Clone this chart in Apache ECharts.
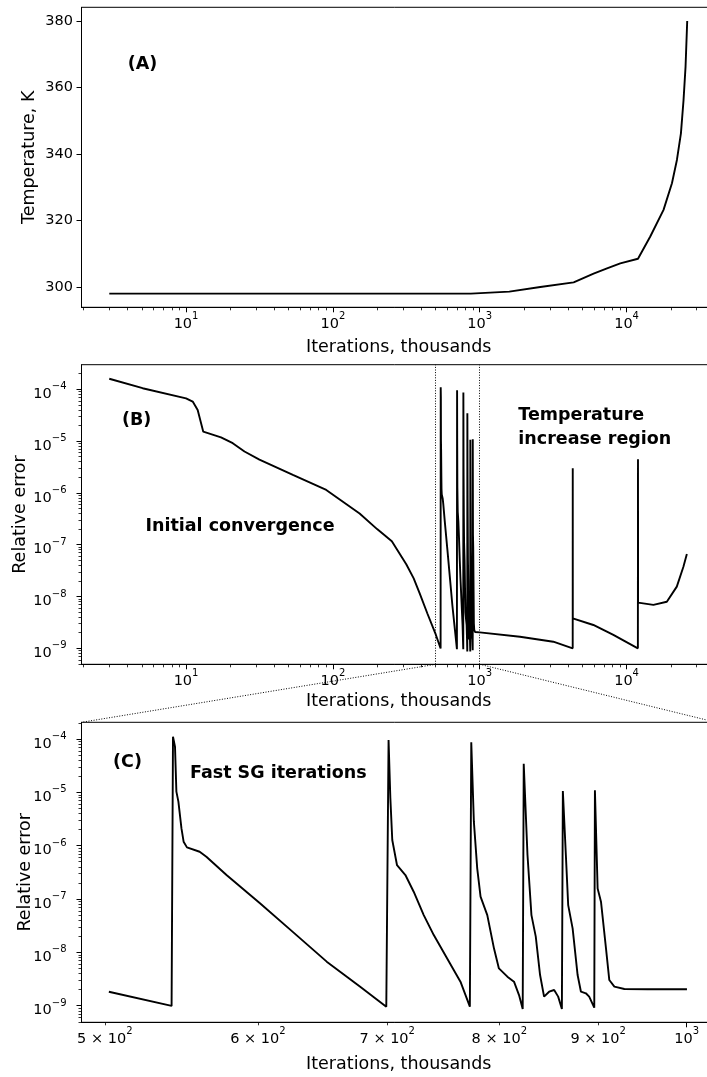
<!DOCTYPE html>
<html>
<head>
<meta charset="utf-8">
<script src="https://cdn.jsdelivr.net/npm/echarts@6/dist/echarts.min.js"></script>
<style>
html, body { margin: 0; padding: 0; background: #fff; }
#chart { width: 707px; height: 1077px; }
</style>
</head>
<body>
<div id="chart"></div>
<script>
// (A) temperature vs iterations (thousands)
var tempIter = [3, 870, 1590, 2585, 4360, 5960, 7360, 9060, 11960, 14500, 17850, 20370, 22020, 23450, 24430, 25210, 25880];
var tempK = [298, 298, 298.6, 300.0, 301.4, 304.0, 305.6, 307.1, 308.5, 315.2, 323.2, 331.2, 338.2, 346.2, 356.2, 366.2, 380];

// (B) initial convergence
var initIter = [3, 5.06, 10, 11.1, 12.0, 13.1, 17.3, 20.8, 25, 31.6, 53.4, 90.1, 152, 200, 252, 316, 355, 390, 440];
var initErr = [1.6e-4, 1.05e-4, 6.7e-5, 5.8e-5, 4.0e-5, 1.52e-5, 1.18e-5, 9.1e-6, 6.3e-6, 4.4e-6, 2.22e-6, 1.14e-6, 4.0e-7, 2.0e-7, 1.17e-7, 4.2e-8, 2.24e-8, 1.15e-8, 4.7e-9];

// fast SG iterations (shown in B, zoomed in C)
var fastIter = [502.4, 541.4, 542.3, 543.6, 544.5, 545.8, 547.8, 549.2, 551.4, 559.8, 564.3, 578.0, 601.5, 625.9, 651.3, 677.8, 699.2,
  701.1, 702.6, 704.2, 708.2, 715.3, 722.4, 731.1, 739.9, 751.8, 763.8, 772.4,
  773.7, 776.1, 779.2, 782.3, 788.6, 794.9, 799.6, 807.7, 814.1, 819.0, 822.6,
  823.6, 827.3, 831.2, 835.5, 839.8, 843.8, 848.9, 854.0, 858.1, 861.9,
  862.9, 866.0, 868.4, 873.0, 878.2, 881.7, 886.9, 890.4, 895.8,
  896.5, 899.4, 903.0, 908.4, 912.0, 917.5, 928.5, 954.8, 1000.4];
var fastErr = [1.83e-9, 9.9e-10, 1.1e-4, 7.2e-5, 1.03e-5, 6.7e-6, 2.11e-6, 1.19e-6, 9.3e-7, 7.7e-7, 6.2e-7, 2.82e-7, 8.3e-8, 2.37e-8, 6.7e-9, 2.27e-9, 9.6e-10,
  9.6e-5, 7.8e-6, 1.28e-6, 4.3e-7, 2.82e-7, 1.37e-7, 5.0e-8, 2.11e-8, 7.7e-9, 2.82e-9, 9.6e-10,
  8.7e-5, 2.82e-6, 3.76e-7, 1.11e-7, 5.0e-8, 1.19e-8, 5.0e-9, 3.5e-9, 2.82e-9, 1.58e-9, 8.7e-10,
  3.44e-5, 6.7e-7, 5.0e-8, 1.97e-8, 3.76e-9, 1.48e-9, 1.83e-9, 1.97e-9, 1.48e-9, 8.7e-10,
  1.06e-5, 6.7e-7, 7.7e-8, 2.82e-8, 3.76e-9, 1.83e-9, 1.71e-9, 1.48e-9, 9.2e-10,
  1.09e-5, 1.58e-7, 8.9e-8, 1.19e-8, 3.03e-9, 2.28e-9, 2.06e-9, 2.03e-9, 2.03e-9];

// temperature increase region
var heatIter = [1880, 3170, 4297, 4300, 4303, 5940, 8130, 11940, 11960, 11980, 15230, 18800, 21980, 24380, 25740];
var heatErr = [1.67e-9, 1.34e-9, 1.0e-9, 2.99e-6, 3.79e-9, 2.82e-9, 1.81e-9, 1.0e-9, 4.46e-6, 7.6e-9, 6.9e-9, 7.9e-9, 1.55e-8, 3.76e-8, 6.6e-8];

var tempTicks = [300, 320, 340, 360, 380];
var iterTicks = [10, 100, 1000, 10000];
var errTicks = [1e-9, 1e-8, 1e-7, 1e-6, 1e-5, 1e-4];
var zoomTicks = [500, 600, 700, 800, 900, 1000];

var FONT = 'DejaVu Sans';
var lg = Math.log10;

// axis ranges (log10 space for the log axes)
var iterRange = [0.288, 4.609];
var tempRange = [293.9, 384.1];
var errRangeB = [-9.309, -3.525];
var zoomRange = [2.6869, 3.0152];
var errRangeC = [-9.311, -3.687];

function toPairs(xs, ys, logY) {
  return xs.map(function (x, i) { return [lg(x), logY ? lg(ys[i]) : ys[i]]; });
}
function minorLogs(range) {
  var out = [];
  for (var n = Math.floor(range[0]) - 1; n <= Math.ceil(range[1]); n++) {
    for (var k = 2; k < 10; k++) {
      var v = n + lg(k);
      if (v > range[0] && v < range[1]) out.push(v);
    }
  }
  return out;
}
function supText(e) {
  return (e < 0 ? '\u2212' : '') + Math.abs(e);
}
function powLabel(v) {
  return '{b|10}{s|' + supText(Math.round(v)) + '}';
}
function zoomLabel(v) {
  var e = Math.floor(v + 1e-9);
  var m = Math.round(Math.pow(10, v - e));
  if (m === 1) return '{b|10}{s|' + supText(e) + '}';
  return '{b|' + m + ' \u00d7 10}{s|' + supText(e) + '}';
}
var rich = {
  b: { fontFamily: FONT, fontSize: 14.5, color: '#000', lineHeight: 20, verticalAlign: 'bottom' },
  s: { fontFamily: FONT, fontSize: 10, color: '#000', lineHeight: 12, verticalAlign: 'top' }
};
var nameStyle = { fontFamily: FONT, fontSize: 17.5, color: '#000' };
var black = { color: '#000', width: 1 };

function majorAxis(dim, grid, range, ticks, labels, fmt, margin, name, gap, pad) {
  return {
    type: 'value', gridIndex: grid, min: range[0], max: range[1],
    position: dim === 'x' ? 'bottom' : 'left',
    axisLine: { show: true, onZero: false, lineStyle: black },
    axisTick: { show: true, length: 5, lineStyle: black, customValues: ticks },
    axisLabel: { customValues: labels, formatter: fmt, rich: rich, margin: margin, padding: pad || 0,
      color: '#000', fontFamily: FONT, fontSize: 14.5 },
    splitLine: { show: false },
    name: name, nameLocation: 'middle', nameGap: gap, nameMoveOverlap: false, nameTextStyle: nameStyle
  };
}
function minorAxis(dim, grid, range, ticks) {
  return {
    type: 'value', gridIndex: grid, min: range[0], max: range[1],
    position: dim === 'x' ? 'bottom' : 'left',
    axisLine: { show: false },
    axisTick: { show: true, length: 3, lineStyle: { color: '#000', width: 0.8 }, customValues: ticks },
    axisLabel: { show: false },
    splitLine: { show: false }
  };
}

var logIter = iterTicks.map(lg);
var logErr = errTicks.map(lg);
var logZoom = zoomTicks.map(lg);

var xAxes = [
  majorAxis('x', 0, iterRange, logIter, logIter, powLabel, 4, 'Iterations, thousands', 31),
  majorAxis('x', 1, iterRange, logIter, logIter, powLabel, 4, 'Iterations, thousands', 28),
  majorAxis('x', 2, zoomRange, [3], logZoom, zoomLabel, 4, 'Iterations, thousands', 33),
  minorAxis('x', 0, iterRange, minorLogs(iterRange)),
  minorAxis('x', 1, iterRange, minorLogs(iterRange)),
  minorAxis('x', 2, zoomRange, minorLogs(zoomRange))
];
var yAxes = [
  majorAxis('y', 0, tempRange, tempTicks, tempTicks, '{value}', 8.5, 'Temperature, K', 43),
  majorAxis('y', 1, errRangeB, logErr, logErr, powLabel, 15, 'Relative error', 52, [5, 0, 0, 0]),
  majorAxis('y', 2, errRangeC, logErr, logErr, powLabel, 15, 'Relative error', 47, [5, 0, 0, 0]),
  minorAxis('y', 1, errRangeB, minorLogs(errRangeB)),
  minorAxis('y', 2, errRangeC, minorLogs(errRangeC))
];

// the axes run past the right edge of the picture, as in the reference
var grids = [
  { left: 81.5, width: 634.5, top: 7.3, height: 300 },
  { left: 81.5, width: 634.5, top: 364.7, height: 299.6 },
  { left: 81.5, width: 634.5, top: 722.3, height: 300 }
].map(function (g) {
  g.show = true; g.borderColor = '#000'; g.borderWidth = 1; g.backgroundColor = 'transparent';
  g.outerBoundsMode = 'none'; g.containLabel = false;
  return g;
});

var lineStyle = { color: '#000', width: 1.9 };
var errB = toPairs(initIter, initErr, true).concat(toPairs(fastIter, fastErr, true), toPairs(heatIter, heatErr, true));

var chart = echarts.init(document.getElementById('chart'), null, { renderer: 'canvas' });
chart.setOption({
  animation: false,
  backgroundColor: '#fff',
  grid: grids,
  xAxis: xAxes,
  yAxis: yAxes,
  series: [
    { type: 'line', xAxisIndex: 0, yAxisIndex: 0, data: toPairs(tempIter, tempK, false),
      symbol: 'none', lineStyle: lineStyle, clip: true },
    { type: 'line', xAxisIndex: 1, yAxisIndex: 1, data: errB,
      symbol: 'none', lineStyle: lineStyle, clip: true,
      markLine: {
        silent: true, symbol: ['none', 'none'], label: { show: false },
        lineStyle: { color: '#000', width: 1, type: [1, 1.6] },
        data: [{ xAxis: lg(fastIter[0]) }, { xAxis: lg(fastIter[fastIter.length - 1]) }]
      } },
    { type: 'line', xAxisIndex: 2, yAxisIndex: 2, data: toPairs(fastIter, fastErr, true),
      symbol: 'none', lineStyle: lineStyle, clip: true }
  ]
});

// dotted connectors from the zoom window in (B) to the corners of (C)
var p1 = chart.convertToPixel({ seriesIndex: 1 }, [lg(fastIter[0]), errRangeB[0]]);
var p2 = chart.convertToPixel({ seriesIndex: 1 }, [lg(fastIter[fastIter.length - 1]), errRangeB[0]]);
var c1 = chart.convertToPixel({ seriesIndex: 2 }, [zoomRange[0], errRangeC[1]]);
var c2 = chart.convertToPixel({ seriesIndex: 2 }, [zoomRange[1], errRangeC[1]]);
var dotted = { stroke: '#000', lineWidth: 1, lineDash: [1, 1.6] };
var bold = 'bold 17.5px "DejaVu Sans"';

function note(id, x, y, text, align) {
  return { type: 'text', id: id, x: x, y: y, silent: true,
    style: { text: text, font: bold, fill: '#000', align: align || 'center', verticalAlign: 'middle', lineHeight: 24 } };
}

chart.setOption({
  graphic: [
    { type: 'line', id: 'conn1', silent: true, shape: { x1: p1[0], y1: p1[1], x2: c1[0], y2: c1[1] }, style: dotted },
    { type: 'line', id: 'conn2', silent: true, shape: { x1: p2[0], y1: p2[1], x2: c2[0], y2: c2[1] }, style: dotted },
    note('tA', 142.5, 64.5, '(A)'),
    note('tB', 136.7, 420.5, '(B)'),
    note('tInit', 240, 526.7, 'Initial convergence'),
    note('tHeat', 518.3, 427.3, 'Temperature\nincrease region', 'left'),
    note('tC', 127.5, 762.5, '(C)'),
    note('tFast', 190, 773, 'Fast SG iterations', 'left')
  ]
});
</script>
</body>
</html>
